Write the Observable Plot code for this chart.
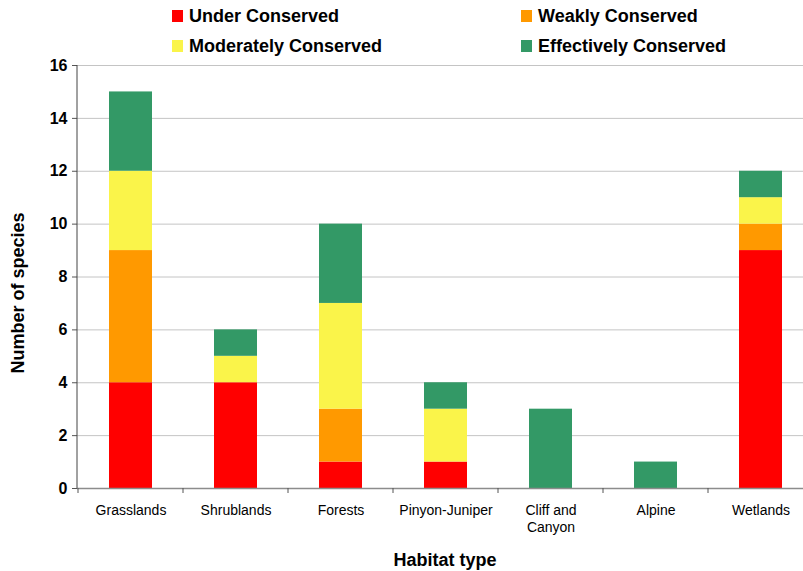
<!DOCTYPE html>
<html><head><meta charset="utf-8">
<script src="https://cdn.jsdelivr.net/npm/d3@7"></script>
<script src="https://cdn.jsdelivr.net/npm/@observablehq/plot@0.6"></script>
<style>
body{margin:0;background:#fff;font-family:"Liberation Sans",Arial,sans-serif;}
#wrap{position:relative;width:803px;height:571px;overflow:hidden;background:#fff;}
#wrap svg{position:absolute;left:0;top:0;}
.leg{position:absolute;font-weight:bold;font-size:18px;color:#000;display:flex;align-items:center;white-space:nowrap;height:20px;}
.sw{width:11px;height:12px;margin-right:6px;display:inline-block;}
.title{position:absolute;font-weight:bold;font-size:18px;color:#000;white-space:nowrap;}
</style></head>
<body><div id="wrap"></div>
<script>
const habitats = ["Grasslands","Shrublands","Forests","Pinyon-Juniper","Cliff and Canyon","Alpine","Wetlands"];
const habitatLabels = ["Grasslands","Shrublands","Forests","Pinyon-Juniper","Cliff and\nCanyon","Alpine","Wetlands"];
const statuses = ["Under Conserved","Weakly Conserved","Moderately Conserved","Effectively Conserved"];
const statusColors = ["#ff0000","#ff9900","#faf44a","#339966"];
const underConserved = [4,4,1,1,0,0,9];
const weaklyConserved = [5,0,2,0,0,0,1];
const moderatelyConserved = [3,1,4,2,0,0,1];
const effectivelyConserved = [3,1,3,1,3,1,1];
const yTicks = [0,2,4,6,8,10,12,14,16];
const xTitle = "Habitat type";
const yTitle = "Number of species";

const series = [underConserved, weaklyConserved, moderatelyConserved, effectivelyConserved];
const rows = [];
habitats.forEach((h,i)=>statuses.forEach((s,j)=>rows.push({habitat:h, status:s, value:series[j][i]})));

const chart = Plot.plot({
  width: 803,
  height: 571,
  marginTop: 65,
  marginBottom: 83,
  marginLeft: 77,
  marginRight: 0,
  style: {fontFamily: '"Liberation Sans", Arial, sans-serif', background: "#fff", overflow: "hidden"},
  x: {domain: habitats, range: [77, 814], paddingInner: 0.59, paddingOuter: 0.295, label: null},
  y: {domain: [0, 16], label: null},
  color: {domain: statuses, range: statusColors},
  marks: [
    Plot.gridY(yTicks, {stroke: "#c4c4c4", strokeOpacity: 1}),
    Plot.barY(rows, Plot.stackY({x: "habitat", y: "value", fill: "status", order: statuses})),
    Plot.ruleY([0], {stroke: "#8c8c8c", strokeWidth: 1.5}),
    Plot.axisY({ticks: yTicks, tickSize: 5, tickPadding: 5, fontSize: 16, fontWeight: "bold", label: null, stroke: "#555", fill: "#000"}),
    Plot.axisX({tickSize: 0, tickPadding: 14, fontSize: 14, lineHeight: 1.24, label: null, fill: "#000",
      tickFormat: (d) => habitatLabels[habitats.indexOf(d)]})
  ]
});

// axis line and band-boundary ticks from the library's scales
const xs = chart.scale("x"), ys = chart.scale("y");
const svg = d3.select(chart);
const y0 = ys.apply(0), y16 = ys.apply(16);
svg.append("line").attr("x1", xs.range[0]).attr("x2", xs.range[0]).attr("y1", y16).attr("y2", y0)
  .attr("stroke", "#444").attr("stroke-width", 1);
const g = svg.append("g").attr("stroke", "#555");
habitats.forEach((h) => {
  const left = xs.apply(h) - (xs.step - xs.bandwidth) / 2;
  g.append("line").attr("x1", left).attr("x2", left).attr("y1", y0).attr("y2", y0 + 5);
});

const wrap = document.getElementById("wrap");
wrap.appendChild(chart);

const legPos = [[172, 6], [521, 6], [172, 36], [521, 36]];
statuses.forEach((s, i) => {
  const d = document.createElement("div");
  d.className = "leg";
  d.style.left = legPos[i][0] + "px";
  d.style.top = legPos[i][1] + "px";
  d.innerHTML = `<span class="sw" style="background:${statusColors[i]}"></span>${s}`;
  wrap.appendChild(d);
});

const xt = document.createElement("div");
xt.className = "title";
xt.textContent = xTitle;
xt.style.left = "445px"; xt.style.top = "560px";
xt.style.transform = "translate(-50%,-50%)";
wrap.appendChild(xt);

const yt = document.createElement("div");
yt.className = "title";
yt.textContent = yTitle;
yt.style.left = "18px"; yt.style.top = "293px";
yt.style.transform = "translate(-50%,-50%) rotate(-90deg)";
wrap.appendChild(yt);
</script>
</body></html>
